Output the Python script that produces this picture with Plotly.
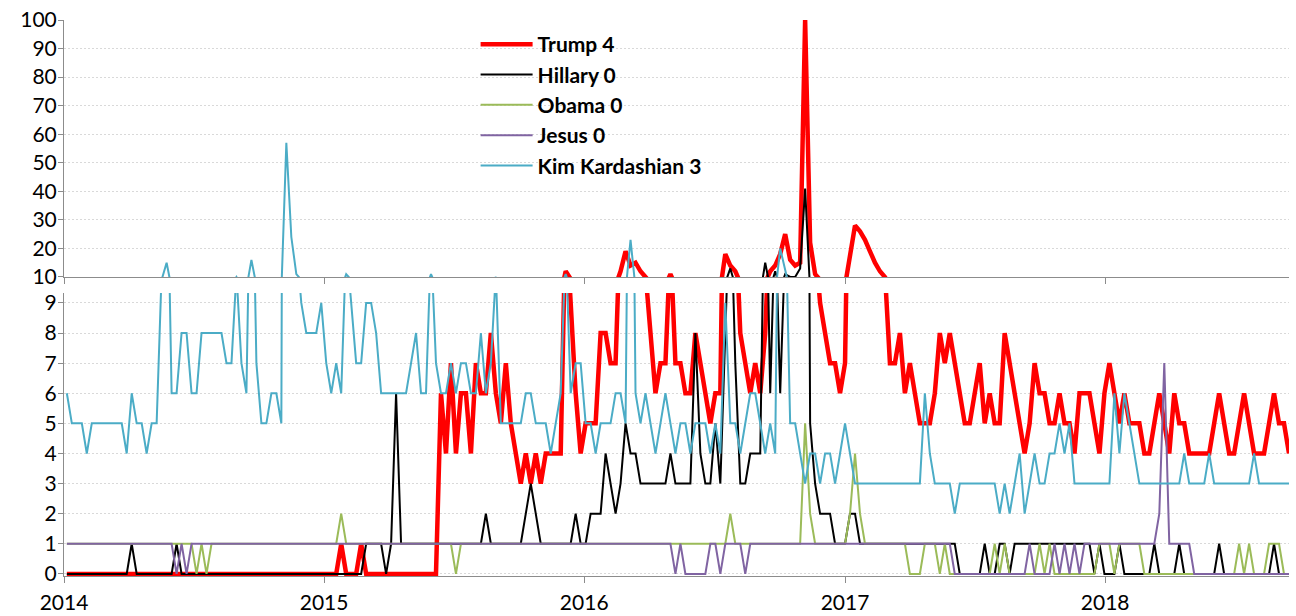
import pandas as pd
import plotly.graph_objects as go

# ---- data: weekly search interest, first week 2014-01-05 ----
week_start = "2014-01-05"

trump = [
    0, 0, 0, 0, 0, 0, 0, 0, 0, 0, 0, 0, 0, 0, 0, 0, 0, 0, 0, 0,
    0, 0, 0, 0, 0, 0, 0, 0, 0, 0, 0, 0, 0, 0, 0, 0, 0, 0, 0, 0,
    0, 0, 0, 0, 0, 0, 0, 0, 0, 0, 0, 0, 0, 0, 0, 1, 0, 0, 0, 1,
    0, 0, 0, 0, 0, 0, 0, 0, 0, 0, 0, 0, 0, 0, 0, 6, 4, 7, 4, 6,
    6, 4, 7, 6, 6, 8, 6, 5, 7, 5, 4, 3, 4, 3, 4, 3, 4, 4, 4, 4,
    12, 9, 6, 4, 5, 5, 5, 8, 8, 7, 7, 12, 19, 14, 15, 12, 10, 8, 6, 7,
    7, 11, 7, 7, 6, 6, 8, 7, 6, 5, 6, 6, 18, 14, 12, 8, 7, 6, 7, 6,
    8, 12, 14, 18, 25, 16, 14, 15, 100, 22, 11, 9, 8, 7, 7, 6, 7, 17, 28, 26,
    23, 19, 15, 12, 10, 7, 7, 8, 6, 7, 6, 5, 5, 5, 6, 8, 7, 8, 7, 6,
    5, 5, 6, 7, 5, 6, 5, 5, 8, 7, 6, 5, 4, 5, 7, 6, 6, 5, 5, 6,
    5, 5, 4, 6, 6, 6, 5, 4, 6, 7, 6, 5, 6, 5, 5, 5, 4, 4, 5, 6,
    5, 4, 6, 5, 5, 4, 4, 4, 4, 4, 5, 6, 5, 4, 4, 5, 6, 5, 4, 4,
    4, 5, 6, 5, 5, 4,
]

hillary = [
    0, 0, 0, 0, 0, 0, 0, 0, 0, 0, 0, 0, 0, 1, 0, 0, 0, 0, 0, 0,
    0, 0, 1, 0, 0, 0, 0, 0, 0, 0, 0, 0, 0, 0, 0, 0, 0, 0, 0, 0,
    0, 0, 0, 0, 0, 0, 0, 0, 0, 0, 0, 0, 0, 0, 0, 0, 0, 0, 0, 0,
    1, 1, 1, 1, 0, 1, 6, 1, 1, 1, 1, 1, 1, 1, 1, 1, 1, 1, 1, 1,
    1, 1, 1, 1, 2, 1, 1, 1, 1, 1, 1, 1, 2, 3, 2, 1, 1, 1, 1, 1,
    1, 1, 2, 1, 1, 2, 2, 2, 4, 3, 2, 3, 5, 4, 4, 3, 3, 3, 3, 3,
    3, 4, 3, 3, 3, 3, 8, 4, 3, 3, 5, 3, 8, 13, 7, 3, 3, 4, 4, 4,
    15, 6, 12, 6, 11, 10, 10, 13, 41, 5, 3, 2, 2, 2, 1, 1, 1, 2, 2, 1,
    1, 1, 1, 1, 1, 1, 1, 1, 1, 1, 1, 1, 1, 1, 1, 1, 1, 1, 1, 0,
    0, 0, 0, 0, 1, 0, 0, 1, 1, 0, 1, 1, 1, 1, 1, 1, 1, 1, 1, 1,
    1, 1, 1, 1, 1, 1, 0, 1, 0, 0, 0, 1, 0, 0, 0, 0, 0, 0, 1, 0,
    0, 0, 0, 1, 0, 0, 0, 0, 0, 0, 0, 1, 0, 0, 0, 0, 0, 0, 0, 0,
    0, 0, 1, 0, 0, 0,
]

obama = [
    1, 1, 1, 1, 1, 1, 1, 1, 1, 1, 1, 1, 1, 1, 1, 1, 1, 1, 1, 1,
    1, 1, 1, 1, 1, 1, 0, 1, 0, 1, 1, 1, 1, 1, 1, 1, 1, 1, 1, 1,
    1, 1, 1, 1, 1, 1, 1, 1, 1, 1, 1, 1, 1, 1, 1, 2, 1, 1, 1, 1,
    1, 1, 1, 1, 1, 1, 1, 1, 1, 1, 1, 1, 1, 1, 1, 1, 1, 1, 0, 1,
    1, 1, 1, 1, 1, 1, 1, 1, 1, 1, 1, 1, 1, 1, 1, 1, 1, 1, 1, 1,
    1, 1, 1, 1, 1, 1, 1, 1, 1, 1, 1, 1, 1, 1, 1, 1, 1, 1, 1, 1,
    1, 1, 1, 1, 1, 1, 1, 1, 1, 1, 1, 1, 1, 2, 1, 1, 1, 1, 1, 1,
    1, 1, 1, 1, 1, 1, 1, 1, 5, 2, 1, 1, 1, 1, 1, 1, 1, 2, 4, 2,
    1, 1, 1, 1, 1, 1, 1, 1, 1, 0, 0, 0, 1, 1, 1, 0, 1, 0, 0, 0,
    0, 0, 0, 0, 0, 0, 1, 0, 1, 0, 0, 0, 0, 0, 0, 1, 0, 1, 0, 0,
    0, 0, 0, 0, 0, 0, 0, 1, 1, 1, 0, 1, 1, 1, 1, 1, 0, 0, 0, 0,
    0, 0, 0, 0, 0, 0, 0, 0, 0, 0, 0, 0, 0, 0, 0, 1, 0, 1, 0, 0,
    0, 1, 1, 1, 0, 0,
]

jesus = [
    1, 1, 1, 1, 1, 1, 1, 1, 1, 1, 1, 1, 1, 1, 1, 1, 1, 1, 1, 1,
    1, 1, 0, 1, 0, 1, 1, 1, 1, 1, 1, 1, 1, 1, 1, 1, 1, 1, 1, 1,
    1, 1, 1, 1, 1, 1, 1, 1, 1, 1, 1, 1, 1, 1, 1, 1, 1, 1, 1, 1,
    1, 1, 1, 1, 1, 1, 1, 1, 1, 1, 1, 1, 1, 1, 1, 1, 1, 1, 1, 1,
    1, 1, 1, 1, 1, 1, 1, 1, 1, 1, 1, 1, 1, 1, 1, 1, 1, 1, 1, 1,
    1, 1, 1, 1, 1, 1, 1, 1, 1, 1, 1, 1, 1, 1, 1, 1, 1, 1, 1, 1,
    1, 1, 0, 1, 0, 0, 0, 0, 0, 1, 1, 0, 1, 1, 1, 1, 0, 1, 1, 1,
    1, 1, 1, 1, 1, 1, 1, 1, 1, 1, 1, 1, 1, 1, 1, 1, 1, 1, 1, 1,
    1, 1, 1, 1, 1, 1, 1, 1, 1, 1, 1, 1, 1, 1, 1, 1, 1, 1, 0, 0,
    0, 0, 0, 0, 0, 0, 0, 0, 0, 0, 0, 0, 0, 1, 0, 0, 0, 0, 1, 0,
    1, 0, 1, 0, 1, 1, 1, 1, 1, 1, 1, 1, 1, 1, 1, 1, 1, 1, 1, 2,
    7, 1, 1, 1, 1, 1, 0, 0, 0, 0, 0, 0, 0, 0, 0, 0, 0, 0, 0, 0,
    0, 0, 0, 0, 0, 0,
]

kim = [
    6, 5, 5, 5, 4, 5, 5, 5, 5, 5, 5, 5, 4, 6, 5, 5, 4, 5, 5, 9,
    15, 6, 6, 8, 8, 6, 6, 8, 8, 8, 8, 8, 7, 7, 10, 7, 6, 16, 7, 5,
    5, 6, 6, 5, 57, 24, 11, 9, 8, 8, 8, 9, 7, 6, 7, 6, 11, 9, 7, 7,
    9, 9, 8, 6, 6, 6, 6, 6, 6, 7, 8, 6, 6, 11, 7, 6, 6, 7, 6, 7,
    7, 6, 6, 8, 6, 7, 10, 5, 5, 5, 5, 5, 6, 6, 5, 5, 5, 4, 5, 6,
    11, 6, 7, 7, 5, 5, 4, 5, 5, 5, 6, 6, 5, 23, 6, 5, 6, 5, 4, 5,
    6, 5, 4, 5, 5, 4, 5, 5, 5, 4, 5, 4, 9, 5, 5, 4, 5, 6, 6, 5,
    4, 5, 4, 20, 12, 5, 5, 4, 3, 4, 4, 3, 4, 4, 3, 4, 5, 4, 3, 3,
    3, 3, 3, 3, 3, 3, 3, 3, 3, 3, 3, 3, 6, 4, 3, 3, 3, 3, 2, 3,
    3, 3, 3, 3, 3, 3, 3, 2, 3, 2, 3, 4, 2, 3, 4, 3, 3, 4, 4, 5,
    4, 5, 3, 3, 3, 3, 3, 3, 3, 3, 6, 4, 6, 5, 4, 3, 3, 3, 3, 3,
    3, 3, 3, 3, 4, 3, 3, 3, 3, 4, 3, 3, 3, 3, 3, 3, 3, 3, 4, 3,
    3, 3, 3, 3, 3, 3,
]

series_names = ["Trump 4", "Hillary 0", "Obama 0", "Jesus 0", "Kim Kardashian 3"]
year_labels = ["2014", "2015", "2016", "2017", "2018"]
low_ticks = [0, 1, 2, 3, 4, 5, 6, 7, 8, 9]
high_ticks = [10, 20, 30, 40, 50, 60, 70, 80, 90, 100]

# ---- styling ----
colors = ["#FF0000", "#000000", "#9BBB59", "#8064A2", "#4BACC6"]
widths = [4.5, 2, 2, 2, 2]
AX = "#8C8C8C"
GRID = "#D9D9D9"
FONT = "Lato, 'Open Sans', sans-serif"

dates = pd.date_range(week_start, periods=len(trump), freq="7D")
year_ticks = [pd.Timestamp(f"{y}-01-01") for y in year_labels]
x_range = [pd.Timestamp("2014-01-01"), dates[-1]]

fig = go.Figure()
for name, vals, col, w in zip(series_names, [trump, hillary, obama, jesus, kim], colors, widths):
    fig.add_trace(go.Scatter(x=dates, y=vals, mode="lines", name=name, legendgroup=name,
                             showlegend=False, line=dict(color=col, width=w),
                             xaxis="x", yaxis="y"))
    fig.add_trace(go.Scatter(x=dates, y=vals, mode="lines", name=name, legendgroup=name,
                             showlegend=True, line=dict(color=col, width=w),
                             xaxis="x2", yaxis="y2"))

axis_common = dict(showline=True, linecolor=AX, linewidth=1, ticks="outside",
                   tickcolor=AX, tickwidth=1, zeroline=False, automargin=False,
                   ticklabeloverflow="allow")

fig.update_layout(
    width=1296, height=616,
    margin=dict(l=64, r=7, t=20, b=40),
    paper_bgcolor="white", plot_bgcolor="white",
    font=dict(family=FONT, size=21, color="black"),
    showlegend=True,
    legend=dict(x=0.336, y=0.9926, xanchor="left", yanchor="top",
                bgcolor="rgba(0,0,0,0)", borderwidth=0,
                font=dict(family=FONT, size=21, color="black", weight="bold"),
                tracegroupgap=0, itemwidth=52),
    xaxis=dict(domain=[0, 1], anchor="y", type="date", range=x_range,
               tickvals=year_ticks, ticktext=year_labels, ticklen=6,
               ticklabelstandoff=2, showgrid=False, **axis_common),
    xaxis2=dict(domain=[0, 1], anchor="y2", type="date", range=x_range,
                tickvals=year_ticks, showticklabels=False, ticklen=6,
                showgrid=False, **axis_common),
    yaxis=dict(domain=[0, 0.509], anchor="x", range=[-0.07, 9.33],
               tickvals=low_ticks, ticklen=5, ticklabelstandoff=-3,
               showgrid=True, gridcolor=GRID,
               griddash="2px,2px", gridwidth=1, **axis_common),
    yaxis2=dict(domain=[0.5378, 1], anchor="x2", range=[10, 100],
                tickvals=high_ticks, ticklen=5, ticklabelstandoff=-3,
                showgrid=True, gridcolor=GRID,
                griddash="2px,2px", gridwidth=1, **axis_common),
)

fig.write_html("out.html",
               config={"displayModeBar": False},
               post_script="document.body.style.margin='0px';document.body.style.padding='0px';")
